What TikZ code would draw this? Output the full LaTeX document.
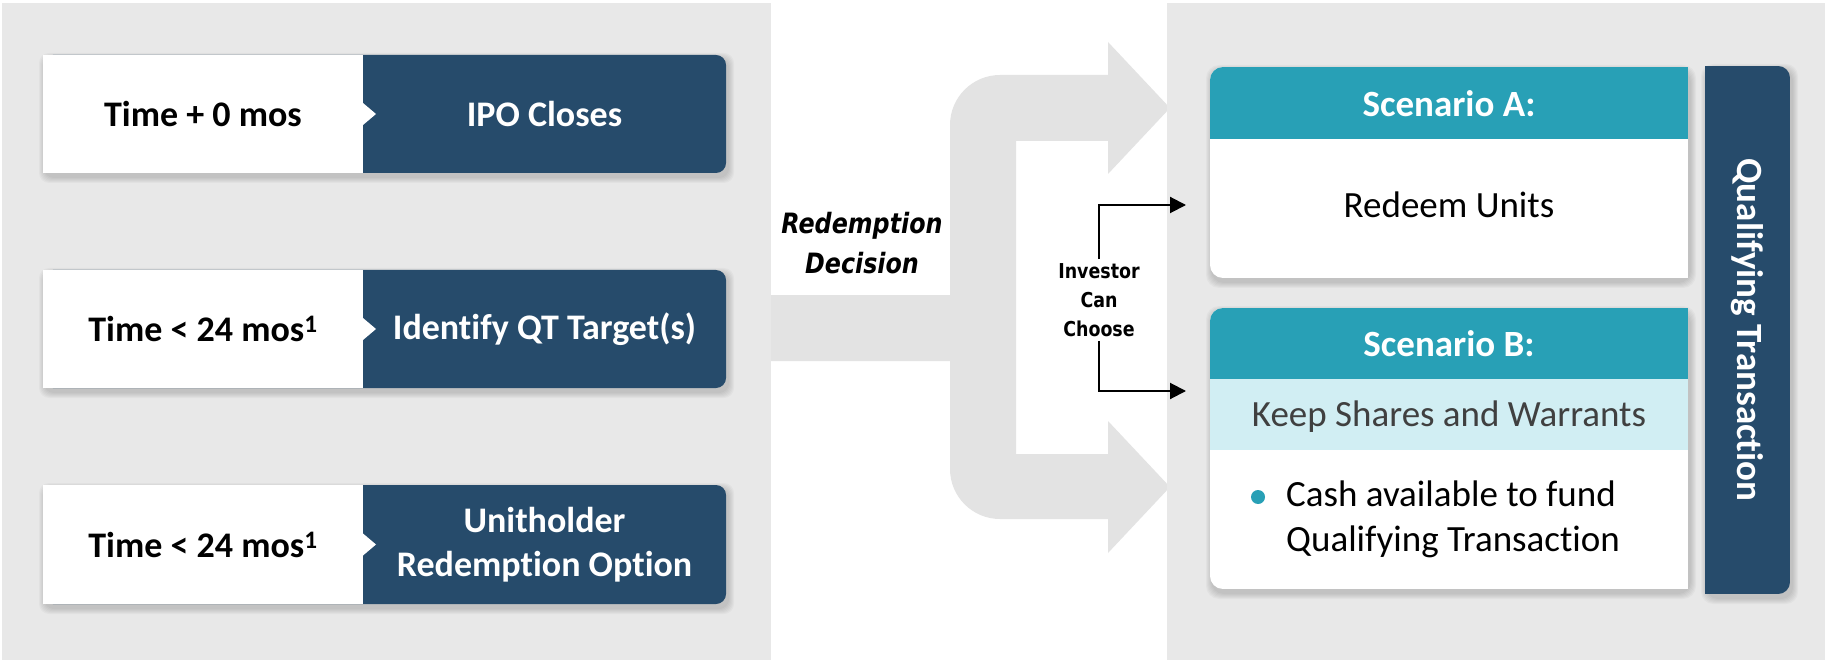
\documentclass[tikz,border=0pt]{standalone}
\usepackage{fontspec}
\setmainfont{Carlito}[Ligatures={TeX,NoCommon}]
\newfontfamily\verdfont{DejaVu Sans}[FakeStretch=0.85,BoldFont={DejaVu Sans Bold},BoldItalicFont={DejaVu Sans Bold Oblique}]
\usetikzlibrary{arrows.meta}

\definecolor{qtnavy}{HTML}{264B6B}
\definecolor{qtteal}{HTML}{28A0B6}
\definecolor{qtband}{HTML}{D1EEF3}
\definecolor{panelgray}{HTML}{E8E8E8}
\definecolor{flowgray}{HTML}{E3E3E3}
\definecolor{keepgray}{HTML}{404040}

% soft drop shadow under a rectangle: x1 y1 x2 y2 radius
\newcommand\softshadow[5]{%
  \foreach \s in {1,...,6}{%
    \fill[black,opacity=0.028,rounded corners=#5] ({#1-\s+2},{#2-\s+4}) rectangle ({#3+\s+2},{#4+\s+4});
  }}

% timeline stage: name, top, bottom, time text, event text
\newcommand\stagebox[5]{%
  \softshadow{43}{#2}{726}{#3}{10}
  \fill[qtnavy,rounded corners=10] (43,#2) rectangle (726,#3);
  \fill[white] (43,#2) rectangle (363,#3);
  \fill[white] (363,{(#2+#3)/2-11}) -- (376,{(#2+#3)/2}) -- (363,{(#2+#3)/2+11}) -- cycle;
  \node[whenlabel] (#1-when) at (203,{(#2+#3)/2}) {#4};
  \node[whatlabel] (#1-what) at (544.5,{(#2+#3)/2}) {#5};
}

\begin{document}
\begin{tikzpicture}[x=1pt,y=-1pt,
  whenlabel/.style={font=\fontsize{36}{44}\selectfont\bfseries, text=black, align=center, inner sep=0},
  whatlabel/.style={whenlabel, text=white},
  headlabel/.style={font=\fontsize{37}{44}\selectfont\bfseries, text=white, inner sep=0},
  bodylabel/.style={font=\fontsize{37}{45}\selectfont, text=black, inner sep=0, align=left},
  flowlabel/.style={font=\verdfont\fontsize{28}{40}\selectfont\bfseries\itshape, align=center, inner sep=0},
  pickl/.style={font=\verdfont\fontsize{20.5}{29}\selectfont\bfseries, align=center, inner sep=4pt},
  choice/.style={line width=2pt, -{Triangle[length=16pt,width=16pt]}},
]
\useasboundingbox (0,0) rectangle (1825,660);
\fill[white] (0,0) rectangle (1825,660);

% background panels and the splitting flow arrow
\fill[panelgray] (2,3) rectangle (771,660);
\fill[flowgray] (771,295) -- (950,295) -- (950,125)
  .. controls (950,97.4) and (972.4,75) .. (1000,75)
  -- (1108,75) -- (1108,42) -- (1170,108) -- (1108,174) -- (1108,141)
  -- (1016,141) -- (1016,454) -- (1108,454) -- (1108,421) -- (1170,487)
  -- (1108,553) -- (1108,519) -- (1000,519)
  .. controls (972.4,519) and (950,496.6) .. (950,469)
  -- (950,361) -- (771,361) -- cycle;
\fill[panelgray] (1167,3) rectangle (1825,660);

% timeline stages
\stagebox{ipo}{55}{173}{Time + 0 mos}{IPO Closes}
\stagebox{target}{270}{388}{Time < 24 mos\textsuperscript{1}}{Identify QT Target(s)}
\stagebox{option}{485}{604}{Time < 24 mos\textsuperscript{1}}{Unitholder\\Redemption Option}

\node[flowlabel] (decision) at (862,243) {Redemption\\Decision};

% scenario A card
\softshadow{1210}{67}{1688}{278}{13}
\begin{scope}
  \clip[rounded corners=13] (1210,67) rectangle (1730,278);
  \fill[white] (1210,67) rectangle (1688,278);
  \fill[qtteal] (1210,67) rectangle (1688,139);
\end{scope}
\node[headlabel] (scA) at (1449,104) {Scenario A:};
\node[bodylabel] (redeem) at (1449,205) {Redeem Units};

% scenario B card
\softshadow{1210}{308}{1688}{589}{13}
\begin{scope}
  \clip[rounded corners=13] (1210,308) rectangle (1730,589);
  \fill[white] (1210,308) rectangle (1688,589);
  \fill[qtteal] (1210,308) rectangle (1688,379);
  \fill[qtband] (1210,379) rectangle (1688,450);
\end{scope}
\node[headlabel] (scB) at (1449,344) {Scenario B:};
\node[bodylabel, text=keepgray] (keep) at (1449,417) {Keep Shares and Warrants};
\fill[qtteal] (1258,497) circle (7);
\node[bodylabel, anchor=west] (cash) at (1286,519) {Cash available to fund\\Qualifying Transaction};

% qualifying transaction bar
\softshadow{1705}{66}{1790}{594}{12}
\begin{scope}
  \clip[rounded corners=12] (1680,66) rectangle (1790,594);
  \fill[qtnavy] (1705,66) rectangle (1790,594);
\end{scope}
\node[headlabel, rotate=-90] (qt) at (1747,330) {Qualifying Transaction};

% investor choice connectors
\node[pickl] (choose) at (1099,300) {Investor\\Can\\Choose};
\coordinate (toA) at (1186,205);
\coordinate (toB) at (1186,391);
\draw[choice] (choose.north) |- (toA);
\draw[choice] (choose.south) |- (toB);
\end{tikzpicture}
\end{document}
